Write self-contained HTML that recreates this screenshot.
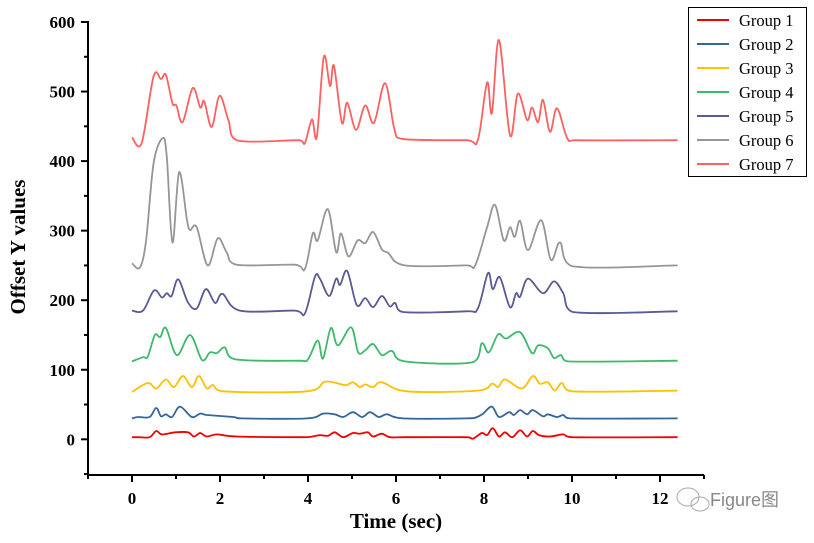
<!DOCTYPE html>
<html><head><meta charset="utf-8"><style>
body{margin:0;background:#fff;width:814px;height:538px;overflow:hidden}
svg text{font-family:"Liberation Serif","Noto Serif CJK SC",serif}
svg text.wm{font-family:"Liberation Sans","Noto Sans CJK SC",sans-serif}
</style></head><body>
<svg id="chart" width="814" height="538" xmlns="http://www.w3.org/2000/svg">
<g id="axes"></g>
<g id="series"></g>
<g id="legend"></g>
<text x="0" y="0" transform="translate(25,247) rotate(-90)" text-anchor="middle" font-size="21" font-weight="bold">Offset Y values</text>
<text x="396" y="528" text-anchor="middle" font-size="21" font-weight="bold">Time (sec)</text>
<text class="wm" x="710" y="506" font-size="18" fill="#888">Figure图</text>
<g fill="none" stroke="#aaa" stroke-width="1"><ellipse cx="688" cy="497" rx="11" ry="9"/><ellipse cx="700" cy="504" rx="9" ry="7"/></g>
</svg>
<script>
const groupNames=["Group 1","Group 2","Group 3","Group 4","Group 5","Group 6","Group 7"];
const groupColors=["#f00000","#336699","#ffc000","#3cb96a","#5a5a94","#969696","#ff6060"];
const xTicks=[0,2,4,6,8,10,12];
const yTicks=[0,100,200,300,400,500,600];
const t1=[0,0.14,0.4,0.55,0.68,0.98,1.27,1.41,1.55,1.7,1.93,2.39,3.9,4.1,4.27,4.45,4.61,4.8,5.02,5.18,5.36,5.48,5.68,5.86,6.2,7.6,7.75,7.95,8.07,8.2,8.34,8.48,8.64,8.82,8.98,9.11,9.25,9.5,9.8,10.0,12.4];
const v1=[3,3,3,12,7,10,10,4,9,4,7,4,3,4,6,5,10,3,9,8,10,4,8,3,3,3,1,9,6,16,4,10,3,13,4,12,6,4,7,3,3];
const t2=[0,0.14,0.4,0.55,0.66,0.77,0.91,1.09,1.36,1.55,1.7,2.3,2.5,3.98,4.34,4.61,4.8,5.02,5.23,5.41,5.61,5.8,6.16,7.6,7.84,7.98,8.18,8.34,8.57,8.68,8.82,8.98,9.11,9.34,9.45,9.66,9.8,9.95,12.4];
const v2=[30,32,32,45,33,36,32,47,32,37,35,32,30,30,37,36,32,39,32,39,32,36,30,30,32,37,47,32,39,35,42,36,42,33,36,32,35,30,30];
const t3=[0,0.36,0.55,0.77,0.95,1.16,1.36,1.52,1.7,1.84,2.07,3.98,4.39,4.84,5.02,5.18,5.3,5.48,5.68,6.25,7.86,8.18,8.32,8.48,8.86,9.11,9.27,9.45,9.61,9.77,10.0,12.4];
const v3=[68,81,73,86,75,91,75,91,73,78,69,69,83,78,82,75,79,75,82,69,70,80,75,86,73,91,80,82,70,81,69,70];
const t4=[0,0.25,0.36,0.52,0.64,0.77,1.02,1.32,1.59,1.77,1.93,2.11,2.34,3.8,4.0,4.22,4.34,4.52,4.68,4.98,5.14,5.3,5.48,5.68,5.91,6.2,7.75,7.95,8.11,8.32,8.5,8.82,9.09,9.23,9.45,9.59,9.75,9.91,12.4];
const v4=[112,118,119,150,147,160,121,150,114,125,124,132,115,113,115,142,116,160,135,161,125,128,137,121,127,112,111,138,125,151,145,154,124,135,131,117,121,112,113];
const t5=[0,0.25,0.5,0.68,0.79,0.9,1.05,1.27,1.47,1.68,1.89,2.06,2.45,3.7,3.93,4.16,4.27,4.48,4.64,4.73,4.89,5.11,5.3,5.48,5.68,5.86,5.98,6.16,7.6,7.86,8.09,8.2,8.36,8.59,8.73,8.82,9.0,9.34,9.59,9.8,10.02,12.4];
const v5=[185,185,214,204,210,206,230,197,188,216,196,209,185,185,181,234,231,206,231,222,242,193,203,190,206,191,196,183,184,188,239,216,233,190,210,205,231,210,227,210,183,184];
const t6=[0,0.18,0.32,0.49,0.7,0.79,0.92,1.07,1.25,1.32,1.47,1.72,1.95,2.15,2.38,3.7,3.93,4.11,4.22,4.45,4.64,4.75,4.92,5.13,5.3,5.48,5.68,5.82,6.2,7.6,7.8,8.07,8.25,8.45,8.59,8.7,8.82,9.0,9.3,9.52,9.73,10.0,12.4];
const v6=[253,247,286,397,433,406,283,384,315,301,305,250,289,269,251,251,245,296,286,331,269,296,263,286,282,298,273,268,250,250,250,305,337,286,305,291,314,272,315,258,283,249,250];
const t7=[0,0.22,0.49,0.66,0.77,0.92,1.01,1.15,1.38,1.55,1.64,1.81,1.99,2.19,2.38,3.8,3.93,4.09,4.2,4.36,4.5,4.59,4.77,4.89,5.09,5.3,5.5,5.75,5.96,6.13,7.6,7.86,8.07,8.18,8.34,8.59,8.77,8.98,9.09,9.23,9.34,9.5,9.66,9.89,10.1,12.4];
const v7=[434,426,522,518,524,483,480,456,505,477,486,449,494,459,430,430,426,460,435,550,508,537,455,484,445,480,455,512,447,432,430,430,513,469,574,437,497,459,477,456,488,442,476,433,430,430];
const allT=[t1,t2,t3,t4,t5,t6,t7], allV=[v1,v2,v3,v4,v5,v6,v7];
const NS="http://www.w3.org/2000/svg";
const X=t=>132+(t)*44, Y=v=>439.3-v*0.6955;
function mk(tag,attrs,parent){const e=document.createElementNS(NS,tag);for(const k in attrs)e.setAttribute(k,attrs[k]);parent.appendChild(e);return e;}
const axes=document.getElementById('axes');
let a=mk('line',{x1:88,y1:475,x2:704,y2:475,stroke:'#000','stroke-width':2},axes);


a=mk('line',{x1:88,y1:21,x2:88,y2:476,stroke:'#000','stroke-width':2},axes);


for(let t=-1;t<=13;t++){const major=xTicks.includes(t);const l=mk('line',{x1:X(t),y1:475,x2:X(t),y2:475+(major?7:4),stroke:'#000','stroke-width':2},axes);

}
xTicks.forEach(t=>{const e=mk('text',{x:X(t),y:504,'text-anchor':'middle','font-size':17,'font-weight':'bold'},axes);e.textContent=t;

});
for(let v=-50;v<=600;v+=50){const major=yTicks.includes(v);const l=mk('line',{x1:88-(major?7:4),y1:Y(v),x2:88,y2:Y(v),stroke:'#000','stroke-width':2},axes);

}
yTicks.forEach(v=>{const e=mk('text',{x:75,y:Y(v)+6,'text-anchor':'end','font-size':17,'font-weight':'bold'},axes);e.textContent=v;

});
function smooth(ts,vs){const p=ts.map((t,i)=>[X(t),Y(vs[i])]);let d='M'+p[0][0]+','+p[0][1];
for(let i=0;i<p.length-1;i++){const p0=p[Math.max(0,i-1)],p1=p[i],p2=p[i+1],p3=p[Math.min(p.length-1,i+2)];
const c1=[p1[0]+(p2[0]-p0[0])/6,p1[1]+(p2[1]-p0[1])/6],c2=[p2[0]-(p3[0]-p1[0])/6,p2[1]-(p3[1]-p1[1])/6];
c1[0]=Math.min(Math.max(c1[0],p1[0]),p2[0]);c2[0]=Math.min(Math.max(c2[0],p1[0]),p2[0]);
d+=` C${c1[0].toFixed(1)},${c1[1].toFixed(1)} ${c2[0].toFixed(1)},${c2[1].toFixed(1)} ${p2[0].toFixed(1)},${p2[1].toFixed(1)}`;}return d;}
const sg=document.getElementById('series');
for(let i=0;i<7;i++){const p=mk('path',{d:smooth(allT[i],allV[i]),fill:'none',stroke:groupColors[i],'stroke-width':1.8,'stroke-linejoin':'round'},sg);

}
const lg=document.getElementById('legend');
const box=mk('rect',{x:688.5,y:7.5,width:118,height:169,fill:'#fff',stroke:'#000','stroke-width':1},lg);


groupNames.forEach((n,i)=>{const y=20+i*24;const g=mk('g',{},lg);


mk('line',{x1:697,y1:y,x2:729,y2:y,stroke:groupColors[i],'stroke-width':2},g);
const t=mk('text',{x:739,y:y+6,'font-size':16.5},g);t.textContent=n;});
</script>
</body></html>
